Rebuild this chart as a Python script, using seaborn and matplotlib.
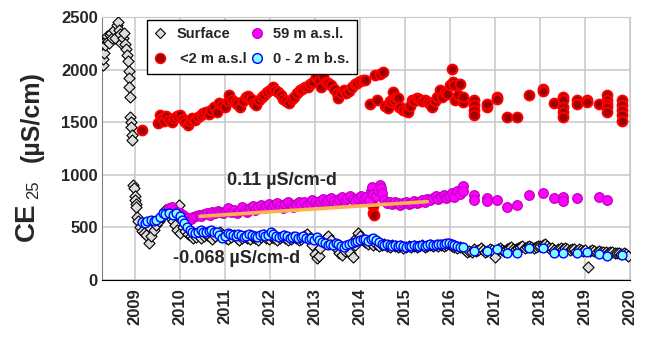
import numpy as np
import pandas as pd
import seaborn as sns
import matplotlib.pyplot as plt
from matplotlib.lines import Line2D
from matplotlib.ticker import MultipleLocator

# ---- data (decimal year, CE25 in uS/cm) ----
surf_t = [2008.29, 2008.30, 2008.31, 2008.33, 2008.35, 2008.37, 2008.39, 2008.40, 2008.42, 2008.44,
          2008.47, 2008.50, 2008.53, 2008.56, 2008.60, 2008.62, 2008.65, 2008.68, 2008.70, 2008.73,
          2008.76, 2008.79, 2008.81, 2008.83, 2008.85, 2008.86, 2008.87, 2008.88, 2008.89, 2008.90,
          2008.91, 2008.92, 2008.93, 2008.94, 2008.96, 2008.98, 2009.00, 2009.01, 2009.02, 2009.03,
          2009.05, 2009.08, 2009.12, 2009.16, 2009.20, 2009.25, 2009.31, 2009.36, 2009.42, 2009.48,
          2009.54, 2009.60, 2009.67, 2009.72, 2009.78, 2009.84, 2009.90, 2009.94, 2009.97, 2010.01,
          2010.06, 2010.12, 2010.18, 2010.24, 2010.30, 2010.36, 2010.42, 2010.48, 2010.54, 2010.60,
          2010.66, 2010.72, 2010.78, 2010.84, 2010.90, 2010.96, 2011.02, 2011.08, 2011.14, 2011.20,
          2011.26, 2011.32, 2011.38, 2011.44, 2011.50, 2011.56, 2011.62, 2011.68, 2011.74, 2011.80,
          2011.86, 2011.92, 2011.98, 2012.04, 2012.10, 2012.16, 2012.22, 2012.28, 2012.34, 2012.40,
          2012.46, 2012.52, 2012.58, 2012.64, 2012.70, 2012.76, 2012.82, 2012.88, 2012.94, 2013.00,
          2013.04, 2013.08, 2013.12, 2013.18, 2013.24, 2013.30, 2013.36, 2013.42, 2013.48, 2013.54,
          2013.60, 2013.66, 2013.72, 2013.78, 2013.84, 2013.88, 2013.92, 2013.96, 2014.00, 2014.06,
          2014.12, 2014.18, 2014.24, 2014.30, 2014.36, 2014.42, 2014.48, 2014.54, 2014.60, 2014.66,
          2014.72, 2014.78, 2014.84, 2014.90, 2014.96, 2015.02, 2015.08, 2015.14, 2015.20, 2015.26,
          2015.32, 2015.38, 2015.44, 2015.50, 2015.56, 2015.62, 2015.68, 2015.74, 2015.80, 2015.86,
          2015.92, 2015.98, 2016.04, 2016.10, 2016.16, 2016.22,
          2016.28, 2016.33, 2016.38, 2016.43, 2016.48, 2016.53, 2016.58, 2016.63, 2016.68, 2016.73,
          2016.78, 2016.83, 2016.88, 2016.93, 2016.98, 2017.01, 2017.06, 2017.11, 2017.16, 2017.21,
          2017.26, 2017.31, 2017.36, 2017.41, 2017.46, 2017.51, 2017.56, 2017.61, 2017.66, 2017.71,
          2017.76, 2017.81, 2017.86, 2017.91, 2017.96, 2018.01, 2018.06, 2018.11, 2018.16, 2018.21,
          2018.26, 2018.31, 2018.36, 2018.41, 2018.46, 2018.51, 2018.56, 2018.61, 2018.66, 2018.71,
          2018.76, 2018.81, 2018.86, 2018.91, 2018.96, 2019.01, 2019.07, 2019.11, 2019.16, 2019.21,
          2019.26, 2019.31, 2019.36, 2019.41, 2019.46, 2019.51, 2019.56, 2019.61, 2019.66, 2019.71,
          2019.76, 2019.81, 2019.86, 2019.91, 2019.96]
surf_v = [2048, 2100, 2160, 2230, 2280, 2300, 2320, 2270, 2250, 2330,
          2350, 2300, 2380, 2300, 2420, 2457, 2380, 2340, 2250, 2300,
          2350, 2240, 2200, 2140, 2080, 1990, 1920, 1830, 1740, 1550,
          1500, 1450, 1380, 1330, 905, 876, 800, 762, 720, 690,
          600, 560, 500, 470, 450, 430, 352, 420, 480, 520,
          560, 600, 667, 640, 600, 560, 520, 476, 714, 448,
          500, 470, 440, 420, 400, 410, 430, 400, 420, 430,
          410, 390, 420, 440, 460, 430, 400, 390, 410, 430,
          400, 380, 400, 420, 400, 390, 410, 400, 380, 410,
          430, 400, 390, 410, 400, 380, 400, 420, 400, 380,
          390, 410, 400, 380, 390, 420, 440, 400, 330, 250,
          210, 230, 300, 360, 400, 420, 380, 330, 290, 260,
          240, 280, 320, 260, 219, 330, 400, 450, 420, 380,
          360, 340, 350, 330, 340, 320, 330, 340, 320, 310,
          330, 320, 310, 320, 300, 310, 320, 310, 320, 310,
          320, 330, 310, 320, 330, 320, 330, 320, 330, 320,
          330, 340, 320, 310, 300, 310,
          300, 285, 270, 280, 265, 290, 275, 285, 300, 285,
          270, 280, 295, 285, 270, 219, 290, 300, 285, 280,
          295, 300, 310, 290, 295, 300, 315, 320, 305, 315,
          325, 310, 300, 310, 320, 325, 335, 340, 320, 305,
          300, 285, 280, 295, 300, 290, 300, 290, 285, 295,
          290, 280, 290, 285, 275, 285, 124, 280, 285, 275,
          270, 280, 270, 265, 270, 260, 265, 270, 260, 255,
          260, 250, 255, 245, 228]

asl2_t = [2009.15, 2009.52, 2009.56, 2009.60, 2009.65, 2009.70, 2009.76, 2009.82, 2009.88, 2009.94,
          2010.00, 2010.06, 2010.12, 2010.17, 2010.22, 2010.28, 2010.34, 2010.40, 2010.46, 2010.52,
          2010.58, 2010.64, 2010.70, 2010.76, 2010.82, 2010.88, 2010.94, 2011.00, 2011.06, 2011.10,
          2011.16, 2011.22, 2011.28, 2011.34, 2011.40, 2011.46, 2011.52, 2011.58, 2011.64, 2011.70,
          2011.76, 2011.82, 2011.88, 2011.94, 2012.00, 2012.06, 2012.12, 2012.18, 2012.24, 2012.30,
          2012.36, 2012.42, 2012.48, 2012.54, 2012.60, 2012.66, 2012.72, 2012.78, 2012.84, 2012.90,
          2012.96, 2013.02, 2013.08, 2013.14, 2013.18, 2013.24, 2013.30, 2013.36, 2013.42, 2013.48,
          2013.52, 2013.58, 2013.64, 2013.70, 2013.76, 2013.82, 2013.88, 2013.94, 2014.00, 2014.06,
          2014.11, 2014.22, 2014.28, 2014.30, 2014.32, 2014.33, 2014.38, 2014.45, 2014.51, 2014.56,
          2014.62, 2014.66, 2014.70, 2014.73, 2014.76, 2014.80, 2014.84, 2014.86, 2014.90, 2014.96,
          2015.02, 2015.07, 2015.12, 2015.16, 2015.20, 2015.26, 2015.32, 2015.38, 2015.44, 2015.51,
          2015.56, 2015.60, 2015.66, 2015.72, 2015.78, 2015.82, 2015.88, 2015.94, 2016.00, 2016.04,
          2016.06, 2016.10, 2016.12, 2016.18, 2016.22, 2016.29, 2016.29,
          2016.53, 2016.53, 2016.53, 2016.53, 2016.82, 2016.82, 2017.04, 2017.04, 2017.27, 2017.49,
          2017.76, 2018.07, 2018.07, 2018.31, 2018.51, 2018.51, 2018.51, 2018.51, 2018.51, 2018.82,
          2018.82, 2019.04, 2019.04, 2019.31, 2019.49, 2019.49, 2019.49, 2019.49, 2019.49, 2019.82,
          2019.82, 2019.82, 2019.82, 2019.82]
asl2_v = [1430, 1495, 1571, 1540, 1510, 1560, 1520, 1500, 1540, 1560,
          1571, 1530, 1500, 1476, 1510, 1543, 1520, 1552, 1570, 1590,
          1600, 1580, 1619, 1640, 1600, 1686, 1660, 1640, 1700, 1762,
          1714, 1690, 1670, 1648, 1700, 1743, 1750, 1720, 1686, 1660,
          1714, 1740, 1760, 1790, 1810, 1838, 1810, 1790, 1760, 1720,
          1700, 1686, 1720, 1743, 1780, 1810, 1820, 1838, 1830, 1860,
          1880, 1933, 1905, 1838, 1943, 1886, 1870, 1857, 1820, 1780,
          1733, 1780, 1810, 1781, 1800, 1838, 1860, 1876, 1890, 1905,
          1905, 1676, 700, 640, 620, 1952, 1714, 1960, 1981, 1650,
          1638, 1700, 1690, 1790, 1714, 1740, 1733, 1648, 1640, 1620,
          1610, 1600, 1650, 1714, 1700, 1733, 1720, 1700, 1710, 1695,
          1670, 1648, 1700, 1740, 1810, 1743, 1790, 1770, 1850, 2010,
          1886, 1857, 1714, 1760, 1860, 1695, 1740,
          1714, 1667, 1619, 1571, 1648, 1670, 1743, 1720, 1552, 1552,
          1762, 1819, 1800, 1686, 1743, 1714, 1648, 1600, 1552, 1714,
          1676, 1714, 1690, 1676, 1762, 1714, 1676, 1648, 1600, 1714,
          1667, 1619, 1571, 1514]

asl59_t = [2009.75, 2009.82, 2009.88, 2009.94, 2010.00, 2010.06, 2010.12, 2010.18, 2010.24, 2010.30,
           2010.36, 2010.42, 2010.48, 2010.54, 2010.60, 2010.66, 2010.72, 2010.78, 2010.84, 2010.90,
           2010.96, 2011.02, 2011.08, 2011.14, 2011.20, 2011.26, 2011.32, 2011.38, 2011.44, 2011.50,
           2011.56, 2011.62, 2011.68, 2011.74, 2011.80, 2011.86, 2011.92, 2011.98, 2012.04, 2012.10,
           2012.16, 2012.22, 2012.28, 2012.34, 2012.40, 2012.46, 2012.52, 2012.58, 2012.64, 2012.70,
           2012.76, 2012.82, 2012.88, 2012.94, 2013.00, 2013.06, 2013.12, 2013.18, 2013.24, 2013.30,
           2013.36, 2013.42, 2013.48, 2013.54, 2013.60, 2013.66, 2013.72, 2013.78, 2013.84, 2013.90,
           2013.96, 2014.02, 2014.08, 2014.14, 2014.20, 2014.24, 2014.26, 2014.28, 2014.36, 2014.40,
           2014.44, 2014.46, 2014.50, 2014.54, 2014.60, 2014.66, 2014.72, 2014.78, 2014.84, 2014.90,
           2014.96, 2015.02, 2015.08, 2015.14, 2015.20, 2015.26, 2015.32, 2015.38, 2015.44, 2015.50,
           2015.56, 2015.62, 2015.68, 2015.74, 2015.80, 2015.86, 2015.92, 2015.98, 2016.04, 2016.10,
           2016.16, 2016.22, 2016.26, 2016.29, 2016.29,
           2016.53, 2016.53, 2016.82, 2016.82, 2017.04, 2017.27, 2017.49, 2017.76, 2018.07, 2018.31,
           2018.51, 2018.51, 2018.82, 2019.31, 2019.49]
asl59_v = [680, 690, 670, 650, 640, 620, 600, 590, 580, 600,
           610, 620, 610, 630, 640, 620, 650, 640, 660, 650,
           640, 660, 680, 650, 670, 640, 660, 690, 670, 650,
           680, 700, 670, 690, 710, 680, 700, 720, 690, 710,
           730, 700, 680, 720, 740, 710, 690, 720, 745, 720,
           740, 710, 730, 760, 740, 720, 750, 770, 740, 760,
           780, 750, 730, 770, 790, 760, 780, 800, 770, 750,
           780, 800, 770, 790, 760, 850, 886, 820, 800, 860,
           905, 870, 830, 760, 730, 740, 720, 745, 730, 710,
           730, 740, 720, 735, 750, 730, 745, 760, 740, 770,
           760, 780, 800, 770, 790, 810, 780, 800, 830, 790,
           850, 820, 870, 895, 850,
           810, 762, 781, 752, 762, 695, 714, 810, 829, 781,
           790, 752, 781, 790, 762]

bs_t = [2009.15, 2009.22, 2009.28, 2009.35, 2009.42, 2009.48, 2009.55, 2009.62, 2009.68, 2009.76,
        2009.84, 2009.92, 2010.00, 2010.05, 2010.10, 2010.16, 2010.22, 2010.28, 2010.34, 2010.40,
        2010.46, 2010.52, 2010.58, 2010.64, 2010.70, 2010.76, 2010.82, 2010.88, 2010.94, 2011.00,
        2011.06, 2011.12, 2011.18, 2011.24, 2011.30, 2011.36, 2011.42, 2011.48, 2011.54, 2011.60,
        2011.66, 2011.72, 2011.78, 2011.84, 2011.90, 2011.96, 2012.02, 2012.08, 2012.14, 2012.20,
        2012.26, 2012.32, 2012.38, 2012.44, 2012.50, 2012.56, 2012.62, 2012.68, 2012.74, 2012.80,
        2012.86, 2012.92, 2012.98, 2013.04, 2013.10, 2013.16, 2013.22, 2013.28, 2013.34, 2013.40,
        2013.46, 2013.52, 2013.58, 2013.64, 2013.70, 2013.76, 2013.82, 2013.88, 2013.94, 2014.00,
        2014.06, 2014.11, 2014.18, 2014.24, 2014.30, 2014.36, 2014.42, 2014.48, 2014.54, 2014.60,
        2014.66, 2014.72, 2014.78, 2014.84, 2014.90, 2014.96, 2015.02, 2015.08, 2015.14, 2015.20,
        2015.26, 2015.32, 2015.38, 2015.44, 2015.50, 2015.56, 2015.62, 2015.68, 2015.74, 2015.80,
        2015.86, 2015.92, 2015.98, 2016.04, 2016.10, 2016.16, 2016.22, 2016.29]
bs_v = [552, 540, 560, 571, 560, 571, 600, 638, 630, 638,
        619, 640, 610, 571, 543, 505, 480, 457, 448, 460,
        476, 460, 457, 470, 476, 460, 457, 430, 400, 420,
        448, 440, 430, 420, 440, 430, 410, 420, 440, 430,
        420, 410, 430, 440, 420, 430, 457, 440, 420, 410,
        420, 430, 415, 400, 410, 420, 400, 410, 420, 400,
        390, 400, 381, 410, 380, 360, 350, 333, 340, 333,
        350, 340, 320, 314, 330, 340, 350, 360, 370, 380,
        390, 390, 370, 390, 400, 380, 360, 340, 333, 340,
        330, 325, 330, 320, 330, 325, 314, 320, 325, 330,
        320, 325, 330, 324, 330, 340, 335, 330, 340, 345,
        340, 350, 352, 340, 330, 320, 314, 314]
bs_sparse_t = [2016.53, 2016.82, 2017.04, 2017.27, 2017.49, 2017.76, 2018.07, 2018.31, 2018.51, 2018.82,
               2019.04, 2019.31, 2019.49, 2019.82]
bs_sparse_v = [276, 276, 295, 257, 257, 305, 305, 257, 257, 257,
               267, 248, 229, 238]

# trend line for 59 m a.s.l.
trend_t = [2010.45, 2015.50]
trend_v = [605, 745]

labels = ['Surface', ' <2 m a.s.l', '59 m a.s.l.', '0 - 2 m b.s.']

# ---- plotting ----
sns.set_style('white')
plt.rcParams['font.family'] = ['Liberation Sans', 'DejaVu Sans']
plt.rcParams['font.weight'] = 'bold'

fig = plt.figure(figsize=(6.45, 3.37), dpi=100)
ax = fig.add_axes([102 / 645, 1 - 280 / 337, 528 / 645, 263 / 337])

surf = pd.DataFrame({'t': surf_t, 'v': surf_v})
red = pd.DataFrame({'t': asl2_t, 'v': asl2_v})
mag = pd.DataFrame({'t': asl59_t, 'v': asl59_v})
cy = pd.DataFrame({'t': bs_t + bs_sparse_t, 'v': bs_v + bs_sparse_v})
cy_dense = pd.DataFrame({'t': bs_t, 'v': bs_v})

sns.scatterplot(data=surf, x='t', y='v', marker='D', s=32, color='#dcdcdc',
                edgecolor='black', linewidth=0.8, ax=ax, zorder=3)
sns.scatterplot(data=red, x='t', y='v', marker='o', s=50, color='#9a0000',
                edgecolor='#ff0000', linewidth=1.4, ax=ax, zorder=4)
sns.lineplot(data=mag[mag.t < 2016.3], x='t', y='v', color='#c000c0', lw=1.2,
             sort=False, estimator=None, ax=ax, zorder=4)
sns.scatterplot(data=mag, x='t', y='v', marker='o', s=48, color='#ff00ff',
                edgecolor='#c000c0', linewidth=0.9, ax=ax, zorder=5)
sns.lineplot(x=trend_t, y=trend_v, color='#ffb050', lw=2.6, ax=ax, zorder=6)
sns.lineplot(data=cy_dense, x='t', y='v', color='#0000ff', lw=2.0,
             sort=False, estimator=None, ax=ax, zorder=6)
sns.scatterplot(data=cy, x='t', y='v', marker='o', s=40, color='#80ffff',
                edgecolor='#0000ff', linewidth=1.0, ax=ax, zorder=7)

ax.set_xlim(2008.27, 2020.0)
ax.set_ylim(0, 2500)
ax.xaxis.set_major_locator(MultipleLocator(1))
ax.xaxis.set_minor_locator(MultipleLocator(1 / 6))
ax.yaxis.set_major_locator(MultipleLocator(500))
ax.yaxis.set_minor_locator(MultipleLocator(250))
ax.grid(True, which='major', color='#c8c8c8', lw=1.1)
ax.set_axisbelow(True)
ax.tick_params(axis='x', which='both', direction='in', length=6, width=1, color='black',
               labelsize=12, labelrotation=90, pad=6)
ax.tick_params(axis='y', which='both', direction='in', length=6, width=1, color='#404040',
               labelsize=12, pad=3)
ax.set_xticks(range(2009, 2021))
ax.set_xticklabels([str(y) for y in range(2009, 2021)], rotation=90, fontweight='bold')
for lab in ax.get_yticklabels():
    lab.set_fontweight('bold')
ax.set_xlabel('')
ax.set_ylabel('')
for s in ['top', 'right']:
    ax.spines[s].set_color('#c8c8c8')
ax.spines['left'].set_color('#808080')
ax.spines['bottom'].set_color('black')

# y-axis label pieces
fig.text(27 / 645, 1 - 222 / 337, 'CE', rotation=90, fontsize=20, fontweight='bold',
         ha='center', va='center')
fig.text(34 / 645, 1 - 190 / 337, '25', rotation=90, fontsize=12, fontweight='normal',
         ha='center', va='center')
fig.text(32 / 645, 1 - 117 / 337, '(\u00b5S/cm)', rotation=90, fontsize=18, fontweight='bold',
         ha='center', va='center')

ax.text(2011.04, 950, '0.11 \u00b5S/cm-d', fontsize=13, fontweight='bold', va='center')
ax.text(2009.84, 200, '-0.068 \u00b5S/cm-d', fontsize=13, fontweight='bold', va='center')

handles = [
    Line2D([], [], ls='none', marker='D', ms=5.5, mfc='#dcdcdc', mec='black', mew=0.8),
    Line2D([], [], ls='none', marker='o', ms=7, mfc='#9a0000', mec='#ff0000', mew=1.2),
    Line2D([], [], ls='none', marker='o', ms=7, mfc='#ff00ff', mec='#c000c0', mew=0.9),
    Line2D([], [], ls='none', marker='o', ms=7, mfc='#80ffff', mec='#0000ff', mew=1.0),
]
leg = ax.legend(handles, labels, ncol=2, loc='upper left',
                bbox_to_anchor=(147 / 645, 1 - 20 / 337), bbox_transform=fig.transFigure,
                prop={'weight': 'bold', 'size': 10.5}, frameon=True, fancybox=False,
                framealpha=1, edgecolor='black', handlelength=0.8, handletextpad=0.7,
                columnspacing=0.3, labelspacing=0.75, borderpad=0.5, borderaxespad=0)
leg.get_frame().set_linewidth(1.0)

fig.savefig('out.png', dpi=100)
